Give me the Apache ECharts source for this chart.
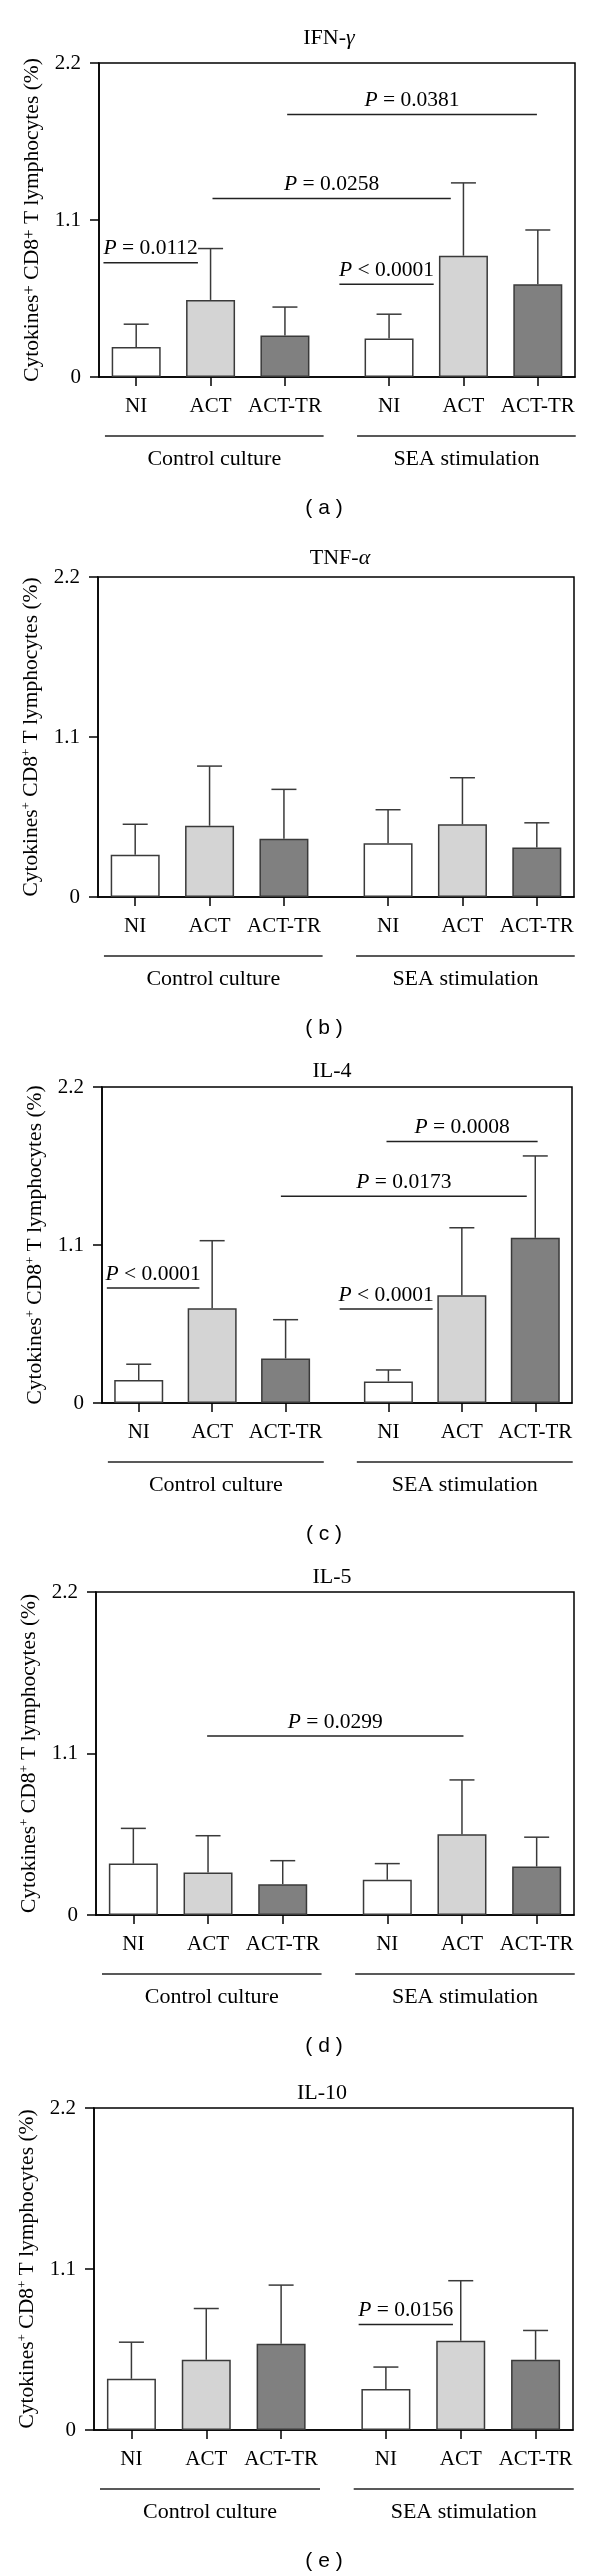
<!DOCTYPE html>
<html><head><meta charset="utf-8">
<script src="https://cdn.jsdelivr.net/npm/echarts@6/dist/echarts.min.js"></script>
<style>html,body{margin:0;padding:0;background:#fff}#c{width:600px;height:2574px}</style>
</head><body><div id="c"></div>
<script>
// ---------- data ----------
const categories = ['NI', 'ACT', 'ACT-TR', 'NI', 'ACT', 'ACT-TR'];
const groups = ['Control culture', 'SEA stimulation'];
const yTicks = [0, 1.1, 2.2];
const panelTitles = ['IFN-{g|γ}', 'TNF-{g|α}', 'IL-4', 'IL-5', 'IL-10'];
const panelLetters = ['a', 'b', 'c', 'd', 'e'];

const ifnMean = [0.21, 0.54, 0.29, 0.27, 0.85, 0.65];
const ifnSD   = [0.16, 0.36, 0.20, 0.17, 0.51, 0.38];
const tnfMean = [0.29, 0.49, 0.40, 0.37, 0.50, 0.34];
const tnfSD   = [0.21, 0.41, 0.34, 0.23, 0.32, 0.17];
const il4Mean = [0.16, 0.66, 0.31, 0.15, 0.75, 1.15];
const il4SD   = [0.11, 0.47, 0.27, 0.08, 0.47, 0.57];
const il5Mean = [0.35, 0.29, 0.21, 0.24, 0.55, 0.33];
const il5SD   = [0.24, 0.25, 0.16, 0.11, 0.37, 0.20];
const il10Mean = [0.35, 0.48, 0.59, 0.28, 0.61, 0.48];
const il10SD   = [0.25, 0.35, 0.40, 0.15, 0.41, 0.20];

// significance brackets: [from, to (x-axis units), y (%), label]
const ifnP = [[0.30, 6.65, 0.80, '= 0.0112'], [7.63, 23.65, 1.25, '= 0.0258'], [12.65, 29.44, 1.84, '= 0.0381'], [16.16, 22.50, 0.65, '< 0.0001']];
const tnfP = [];
const il4P = [[0.33, 6.63, 0.80, '< 0.0001'], [16.18, 22.51, 0.655, '< 0.0001'], [12.18, 28.92, 1.44, '= 0.0173'], [19.37, 29.66, 1.82, '= 0.0008']];
const il5P = [[7.44, 24.6, 1.22, '= 0.0299']];
const il10P = [[17.68, 23.98, 0.72, '= 0.0156']];

const means = [ifnMean, tnfMean, il4Mean, il5Mean, il10Mean];
const sds = [ifnSD, tnfSD, il4SD, il5SD, il10SD];
const pvals = [ifnP, tnfP, il4P, il5P, il10P];

// ---------- layout / style ----------
const layout = [
  {left: 99, top: 63, width: 476, height: 314, titleX: 329, titleDy: -25},
  {left: 98, top: 577, width: 476, height: 320, titleX: 340, titleDy: -19},
  {left: 102, top: 1087, width: 470, height: 316, titleX: 332, titleDy: -16},
  {left: 96, top: 1592, width: 478, height: 323, titleX: 332, titleDy: -15},
  {left: 94, top: 2108, width: 479, height: 322, titleX: 322, titleDy: -15}
];
const SERIF = 'Liberation Serif';
const barColors = ['#ffffff', '#d4d4d4', '#808080'];
const edge = '#3a3a3a';
// position of bar i on the 0..32 x scale
function posOf(i) { return i < 3 ? 2.5 + 5 * i : 19.5 + 5 * (i - 3); }
const positions = categories.map((c, i) => posOf(i));
const groupCenters = [posOf(1) + 0.25, posOf(4) + 0.2];
const groupHalf = 7.35;

const grids = [], xAxes = [], yAxes = [], series = [], graphics = [];
const rich = {
  n: {fontFamily: SERIF, fontSize: 21.5, color: '#000', lineHeight: 24},
  s: {fontFamily: SERIF, fontSize: 13, color: '#000', verticalAlign: 'top', lineHeight: 24},
  sb: {fontFamily: SERIF, fontSize: 17, color: '#000', verticalAlign: 'top', lineHeight: 24}
};

layout.forEach((L, k) => {
  grids.push({left: L.left, top: L.top, width: L.width, height: L.height,
    show: true, borderColor: '#000', borderWidth: 1.5, backgroundColor: 'transparent'});
  xAxes.push({
    type: 'value', gridIndex: k, min: 0, max: 32,
    axisLine: {show: true, onZero: false, lineStyle: {color: '#000', width: 1.5}},
    axisTick: {show: true, customValues: positions, length: 9, lineStyle: {color: '#000', width: 1.5}},
    axisLabel: {show: true, customValues: positions, margin: 19, color: '#000',
      fontFamily: SERIF, fontSize: 21,
      formatter: v => { const i = positions.findIndex(p => Math.abs(p - v) < 0.01); return i >= 0 ? categories[i] : ''; }},
    splitLine: {show: false}
  });
  const sup = k === 0 ? 'sb' : 's';
  yAxes.push({
    type: 'value', gridIndex: k, min: yTicks[0], max: yTicks[yTicks.length - 1],
    interval: yTicks[1] - yTicks[0],
    axisLine: {show: true, lineStyle: {color: '#000', width: 1.5}},
    axisTick: {show: true, length: 9, lineStyle: {color: '#000', width: 1.5}},
    axisLabel: {margin: 18, color: '#000', fontFamily: SERIF, fontSize: 21,
      formatter: v => String(Math.round(v * 10) / 10)},
    splitLine: {show: false},
    name: '{n|Cytokines}{' + sup + '|+}{n| CD8}{' + sup + '|+}{n| T lymphocytes (%)}',
    nameLocation: 'middle', nameRotate: 90, nameGap: 50,
    nameTextStyle: {rich: rich}
  });

  const m = means[k], sd = sds[k];
  // bars
  series.push({
    type: 'bar', xAxisIndex: k, yAxisIndex: k, barWidth: 49,
    data: m.map((v, i) => ({value: [positions[i], v],
      itemStyle: {color: barColors[i % 3], borderColor: edge, borderWidth: 1.5}})),
    z: 2, animation: false
  });
  // error bars (upper only)
  series.push({
    type: 'custom', xAxisIndex: k, yAxisIndex: k, z: 3, animation: false,
    data: m.map((v, i) => [positions[i], v, v + sd[i]]),
    encode: {x: 0, y: [1, 2]},
    renderItem: (params, api) => {
      const a = api.coord([api.value(0), api.value(1)]);
      const b = api.coord([api.value(0), api.value(2)]);
      const st = {stroke: edge, lineWidth: 1.5};
      return {type: 'group', children: [
        {type: 'line', shape: {x1: a[0], y1: a[1], x2: b[0], y2: b[1]}, style: st},
        {type: 'line', shape: {x1: b[0] - 12.5, y1: b[1], x2: b[0] + 12.5, y2: b[1]}, style: st}
      ]};
    }
  });
  // significance lines
  const P = pvals[k];
  if (P.length) {
    series.push({
      type: 'custom', xAxisIndex: k, yAxisIndex: k, z: 4, animation: false, clip: false,
      data: P.map(p => [p[0], p[1], p[2]]),
      encode: {x: [0, 1], y: 2},
      renderItem: (params, api) => {
        const a = api.coord([api.value(0), api.value(2)]);
        const b = api.coord([api.value(1), api.value(2)]);
        const lab = P[params.dataIndex][3];
        return {type: 'group', children: [
          {type: 'line', shape: {x1: a[0], y1: a[1], x2: b[0], y2: b[1]}, style: {stroke: '#222', lineWidth: 1.5}},
          {type: 'text', x: (a[0] + b[0]) / 2, y: a[1] - 3, style: {
            text: '{i|P} ' + lab, align: 'center', verticalAlign: 'bottom',
            fill: '#000', font: '21.5px "' + SERIF + '"',
            rich: {i: {fontStyle: 'italic', fontFamily: SERIF, fontSize: 21.5, fill: '#000', color: '#000'}}
          }}
        ]};
      }
    });
  }
  // group lines and labels under the axis
  series.push({
    type: 'custom', xAxisIndex: k, yAxisIndex: k, z: 4, animation: false, clip: false,
    data: groupCenters.map(c => [c, 0]),
    encode: {x: 0, y: 1},
    renderItem: (params, api) => {
      const c = api.value(0);
      const a = api.coord([c - groupHalf, 0]);
      const b = api.coord([c + groupHalf, 0]);
      return {type: 'group', children: [
        {type: 'line', shape: {x1: a[0], y1: a[1] + 59, x2: b[0], y2: b[1] + 59}, style: {stroke: '#222', lineWidth: 1.5}},
        {type: 'text', x: (a[0] + b[0]) / 2, y: a[1] + 82, style: {
          text: groups[params.dataIndex], align: 'center', verticalAlign: 'middle',
          fill: '#000', font: '22px "' + SERIF + '"'}}
      ]};
    }
  });
  // titles and panel letters
  graphics.push({type: 'text', x: L.titleX, y: L.top + L.titleDy, style: {
    text: panelTitles[k], align: 'center', verticalAlign: 'middle', fill: '#000',
    font: '22px "' + SERIF + '"',
    rich: {g: {fontStyle: 'italic', fontFamily: SERIF, fontSize: 22, fill: '#000', color: '#000'}}}});
  graphics.push({type: 'text', x: 324, y: L.top + L.height + 131, style: {
    text: '( ' + panelLetters[k] + ' )', align: 'center', verticalAlign: 'middle', fill: '#000',
    font: '21px "Liberation Sans"'}});
});

const chart = echarts.init(document.getElementById('c'), null, {renderer: 'canvas'});
chart.setOption({
  animation: false,
  backgroundColor: '#fff',
  grid: grids, xAxis: xAxes, yAxis: yAxes, series: series, graphic: graphics
});
</script></body></html>
